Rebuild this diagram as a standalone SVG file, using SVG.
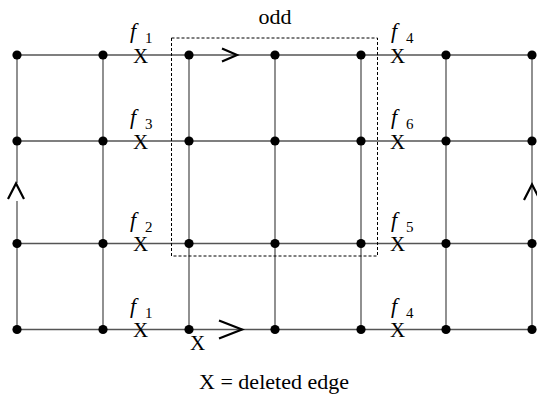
<svg xmlns="http://www.w3.org/2000/svg" width="537" height="394" viewBox="0 0 537 394">
<style>
.e{stroke:#555;stroke-width:1.3;fill:none}
.n{fill:#000}
.a{stroke:#000;stroke-width:2.2;fill:none;stroke-linecap:butt}
.t{font-size:21px}
.f{font-size:22px;font-style:italic}
.s{font-size:15px}
</style>
<rect width="537" height="394" fill="#fff"/>
<g id="connectors">
<line class="e" x1="17" y1="55" x2="532" y2="55"/>
<line class="e" x1="17" y1="141" x2="532" y2="141"/>
<line class="e" x1="17" y1="243.5" x2="532" y2="243.5"/>
<line class="e" x1="17" y1="329.5" x2="532" y2="329.5"/>
<line class="e" x1="17" y1="55" x2="17" y2="183"/>
<line class="e" x1="17" y1="201" x2="17" y2="329.5"/>
<line class="e" x1="103" y1="55" x2="103" y2="329.5"/>
<line class="e" x1="189" y1="55" x2="189" y2="329.5"/>
<line class="e" x1="275" y1="55" x2="275" y2="329.5"/>
<line class="e" x1="361" y1="55" x2="361" y2="329.5"/>
<line class="e" x1="446" y1="55" x2="446" y2="329.5"/>
<line class="e" x1="532" y1="55" x2="532" y2="329.5"/>
<polyline class="a" points="222,48.5 237,55 222,61.5"/>
<polyline class="a" points="219,320.5 242,329.5 219,338.5"/>
<polyline class="a" points="8,199 16,183.5 24,199"/>
<polyline class="a" points="524,200 532,184.5 540,200"/>
</g>
<g id="region-odd" font-family="Liberation Serif, Times New Roman, serif">
<rect x="171.5" y="38" width="206" height="218" fill="none" stroke="#000" stroke-width="1" stroke-dasharray="3,2"/>
<text x="275" y="24" font-size="22" text-anchor="middle">odd</text>
</g>
<g id="nodes">
<circle class="n" cx="17" cy="55" r="4.6"/><circle class="n" cx="103" cy="55" r="4.6"/><circle class="n" cx="189" cy="55" r="4.6"/><circle class="n" cx="275" cy="55" r="4.6"/><circle class="n" cx="361" cy="55" r="4.6"/><circle class="n" cx="446" cy="55" r="4.6"/><circle class="n" cx="532" cy="55" r="4.6"/>
<circle class="n" cx="17" cy="141" r="4.6"/><circle class="n" cx="103" cy="141" r="4.6"/><circle class="n" cx="189" cy="141" r="4.6"/><circle class="n" cx="275" cy="141" r="4.6"/><circle class="n" cx="361" cy="141" r="4.6"/><circle class="n" cx="446" cy="141" r="4.6"/><circle class="n" cx="532" cy="141" r="4.6"/>
<circle class="n" cx="17" cy="243.5" r="4.6"/><circle class="n" cx="103" cy="243.5" r="4.6"/><circle class="n" cx="189" cy="243.5" r="4.6"/><circle class="n" cx="275" cy="243.5" r="4.6"/><circle class="n" cx="361" cy="243.5" r="4.6"/><circle class="n" cx="446" cy="243.5" r="4.6"/><circle class="n" cx="532" cy="243.5" r="4.6"/>
<circle class="n" cx="17" cy="329.5" r="4.6"/><circle class="n" cx="103" cy="329.5" r="4.6"/><circle class="n" cx="189" cy="329.5" r="4.6"/><circle class="n" cx="275" cy="329.5" r="4.6"/><circle class="n" cx="361" cy="329.5" r="4.6"/><circle class="n" cx="446" cy="329.5" r="4.6"/><circle class="n" cx="532" cy="329.5" r="4.6"/>
</g>
<g id="labels" font-family="Liberation Serif, Times New Roman, serif">
<text class="f" x="130" y="38">f</text><text class="s" x="145" y="43">1</text>
<text class="t" x="140.5" y="62.5" text-anchor="middle">X</text>
<text class="f" x="130" y="124">f</text><text class="s" x="145" y="129">3</text>
<text class="t" x="140.5" y="148.5" text-anchor="middle">X</text>
<text class="f" x="130" y="226.5">f</text><text class="s" x="145" y="231.5">2</text>
<text class="t" x="140.5" y="251" text-anchor="middle">X</text>
<text class="f" x="130" y="312.5">f</text><text class="s" x="145" y="317.5">1</text>
<text class="t" x="140.5" y="337" text-anchor="middle">X</text>
<text class="f" x="391" y="38">f</text><text class="s" x="406" y="43">4</text>
<text class="t" x="397.5" y="62.5" text-anchor="middle">X</text>
<text class="f" x="391" y="124">f</text><text class="s" x="406" y="129">6</text>
<text class="t" x="397.5" y="148.5" text-anchor="middle">X</text>
<text class="f" x="391" y="226.5">f</text><text class="s" x="406" y="231.5">5</text>
<text class="t" x="397.5" y="251" text-anchor="middle">X</text>
<text class="f" x="391" y="312.5">f</text><text class="s" x="406" y="317.5">4</text>
<text class="t" x="397.5" y="337" text-anchor="middle">X</text>
<text class="t" x="197.5" y="350" text-anchor="middle">X</text>
<text x="274" y="389" font-size="22" text-anchor="middle">X = deleted edge</text>
</g>
</svg>
